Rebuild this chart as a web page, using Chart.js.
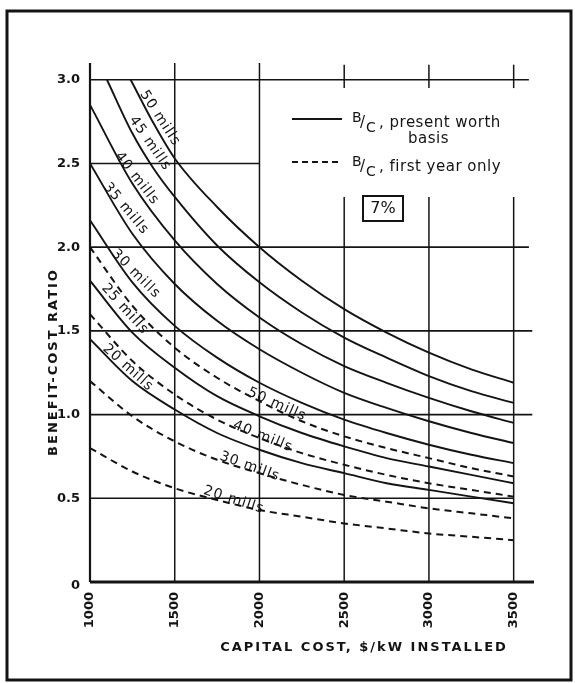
<!DOCTYPE html>
<html>
<head>
<meta charset="utf-8">
<script src="https://cdn.jsdelivr.net/npm/chart.js@4.4.1/dist/chart.umd.min.js"></script>
<style>
  html, body { margin: 0; padding: 0; background: #fff; }
  canvas { display: block; }
</style>
</head>
<body>
<canvas id="bc" width="575" height="683"></canvas>
<script>
// Capital cost, $/kW installed
const capitalCost   = [1000, 1250, 1500, 1750, 2000, 2250, 2500, 2750, 3000, 3250, 3500];
const capitalCost50 = [1240, 1375, 1500, 1750, 2000, 2250, 2500, 2750, 3000, 3250, 3500];
const capitalCost45 = [1100, 1250, 1375, 1500, 1750, 2000, 2250, 2500, 2750, 3000, 3250, 3500];

// Benefit-cost ratio, present worth basis (solid)
const pw50 = [3.00, 2.74, 2.53, 2.24, 2.00, 1.80, 1.63, 1.49, 1.37, 1.27, 1.19];
const pw45 = [3.00, 2.68, 2.47, 2.30, 2.01, 1.79, 1.61, 1.46, 1.34, 1.23, 1.14, 1.07];
const pw40 = [2.85, 2.38, 2.04, 1.78, 1.58, 1.42, 1.29, 1.19, 1.10, 1.02, 0.95];
const pw35 = [2.50, 2.08, 1.78, 1.56, 1.39, 1.25, 1.13, 1.04, 0.96, 0.89, 0.83];
const pw30 = [2.16, 1.79, 1.53, 1.34, 1.19, 1.07, 0.97, 0.89, 0.82, 0.76, 0.71];
const pw25 = [1.80, 1.49, 1.28, 1.11, 0.99, 0.89, 0.81, 0.74, 0.69, 0.64, 0.59];
const pw20 = [1.45, 1.20, 1.03, 0.89, 0.79, 0.71, 0.65, 0.59, 0.55, 0.51, 0.47];

// Benefit-cost ratio, first year only (dashed)
const fy50 = [2.00, 1.65, 1.40, 1.22, 1.08, 0.96, 0.87, 0.80, 0.74, 0.68, 0.63];
const fy40 = [1.60, 1.32, 1.12, 0.97, 0.86, 0.77, 0.70, 0.64, 0.59, 0.55, 0.51];
const fy30 = [1.20, 0.99, 0.84, 0.73, 0.65, 0.58, 0.52, 0.48, 0.44, 0.41, 0.38];
const fy20 = [0.80, 0.66, 0.56, 0.49, 0.43, 0.39, 0.35, 0.32, 0.29, 0.27, 0.25];

// Axis ticks
const xTicks = [1000, 1500, 2000, 2500, 3000, 3500];
const yTicks = [0, 0.5, 1.0, 1.5, 2.0, 2.5, 3.0];
const yTickLabels = ['0', '0.5', '1.0', '1.5', '2.0', '2.5', '3.0'];

// Curve names
const curveNames = ['50 mills', '45 mills', '40 mills', '35 mills', '30 mills', '25 mills', '20 mills'];
const firstYearNames = ['50 mills', '40 mills', '30 mills', '20 mills'];

// ---- drawing setup ----
const INK = '#141414';
const FONT = '"DejaVu Sans", "Liberation Sans", sans-serif';

function pts(xs, ys) { return xs.map((x, i) => ({ x: x, y: ys[i] })); }

function curve(label, xs, ys, dashed) {
  return {
    label: label,
    data: pts(xs, ys),
    showLine: true,
    borderColor: INK,
    borderWidth: dashed ? 2 : 1.9,
    borderDash: dashed ? [7, 5] : [],
    pointRadius: 0,
    fill: false,
    cubicInterpolationMode: 'monotone'
  };
}

const datasets = [
  curve(curveNames[0], capitalCost50, pw50, false),
  curve(curveNames[1], capitalCost45, pw45, false),
  curve(curveNames[2], capitalCost, pw40, false),
  curve(curveNames[3], capitalCost, pw35, false),
  curve(curveNames[4], capitalCost, pw30, false),
  curve(curveNames[5], capitalCost, pw25, false),
  curve(curveNames[6], capitalCost, pw20, false),
  curve(firstYearNames[0], capitalCost, fy50, true),
  curve(firstYearNames[1], capitalCost, fy40, true),
  curve(firstYearNames[2], capitalCost, fy30, true),
  curve(firstYearNames[3], capitalCost, fy20, true)
];

// Where each curve's name is lettered (value space) and its slant in degrees
const labelPlacement = [
  { text: curveNames[0], x: 1413, y: 2.77, angle: 57 },
  { text: curveNames[1], x: 1354, y: 2.62, angle: 55 },
  { text: curveNames[2], x: 1277, y: 2.41, angle: 52 },
  { text: curveNames[3], x: 1212, y: 2.23, angle: 50 },
  { text: curveNames[4], x: 1271, y: 1.84, angle: 45 },
  { text: curveNames[5], x: 1206, y: 1.63, angle: 48 },
  { text: curveNames[6], x: 1224, y: 1.28, angle: 42 },
  { text: firstYearNames[0], x: 2103, y: 1.06, angle: 24 },
  { text: firstYearNames[1], x: 2020, y: 0.87, angle: 22 },
  { text: firstYearNames[2], x: 1943, y: 0.69, angle: 20 },
  { text: firstYearNames[3], x: 1849, y: 0.49, angle: 18 }
];

// Ruled lines of the grid: horizontal rules end at different costs,
// and the right-hand verticals break around the key.
const rowRules = [
  { v: 3.0, to: 3590 }, { v: 2.5, to: 2000 }, { v: 2.0, to: 3590 },
  { v: 1.5, to: 3610 }, { v: 1.0, to: 3610 }, { v: 0.5, to: 3500 }
];
const colRules = [
  { v: 1500, spans: [[0, 3.1]] },
  { v: 2000, spans: [[0, 3.1]] },
  { v: 2500, spans: [[0, 2.3], [2.95, 3.09]] },
  { v: 3000, spans: [[0, 2.3], [2.95, 3.09]] },
  { v: 3500, spans: [[0, 2.3], [2.95, 3.09]] }
];

const paperPlugin = {
  id: 'paper',
  beforeDatasetsDraw(chart) {
    const { ctx, scales: { x, y } } = chart;
    const X = v => x.getPixelForValue(v), Y = v => y.getPixelForValue(v);
    ctx.save();
    ctx.strokeStyle = INK;
    ctx.lineCap = 'butt';
    const seg = (x1, y1, x2, y2, w) => {
      ctx.lineWidth = w;
      ctx.beginPath();
      ctx.moveTo(X(x1), Y(y1));
      ctx.lineTo(X(x2), Y(y2));
      ctx.stroke();
    };
    rowRules.forEach(r => seg(1000, r.v, r.to, r.v, 1.6));
    colRules.forEach(c => c.spans.forEach(s => seg(c.v, s[0], c.v, s[1], 1.5)));
    // axes
    seg(1000, 0, 1000, 3.1, 2.2);
    seg(1000, 0, 3620, 0, 3);
    ctx.restore();
  },
  afterDatasetsDraw(chart) {
    const { ctx, scales: { x, y } } = chart;
    const X = v => x.getPixelForValue(v), Y = v => y.getPixelForValue(v);
    ctx.save();
    ctx.fillStyle = INK;
    ctx.strokeStyle = INK;

    // curve names along the curves
    ctx.font = '14px ' + FONT;
    ctx.letterSpacing = '1px';
    ctx.textAlign = 'center';
    ctx.textBaseline = 'middle';
    labelPlacement.forEach(l => {
      ctx.save();
      ctx.translate(X(l.x), Y(l.y));
      ctx.rotate(l.angle * Math.PI / 180);
      ctx.fillText(l.text, 0, 0);
      ctx.restore();
    });

    // y tick labels
    ctx.font = 'bold 13px ' + FONT;
    ctx.letterSpacing = '0px';
    ctx.textAlign = 'right';
    ctx.textBaseline = 'middle';
    yTicks.forEach((v, i) => {
      ctx.fillText(yTickLabels[i], X(1000) - 10, Y(v) + (v === 0 ? 4 : 0));
    });

    // x tick labels, reading upward
    ctx.font = 'bold 13px ' + FONT;
    xTicks.forEach(v => {
      ctx.save();
      ctx.translate(X(v), Y(0) + 10);
      ctx.rotate(-Math.PI / 2);
      ctx.textAlign = 'right';
      ctx.textBaseline = 'middle';
      ctx.fillText(String(v), 0, 0);
      ctx.restore();
    });

    // axis titles
    ctx.font = 'bold 13px ' + FONT;
    ctx.letterSpacing = '2px';
    ctx.textAlign = 'center';
    ctx.textBaseline = 'middle';
    ctx.fillText('CAPITAL COST, $/kW INSTALLED', 364, 648);
    ctx.save();
    ctx.translate(54, 362);
    ctx.rotate(-Math.PI / 2);
    ctx.fillText('BENEFIT-COST RATIO', 0, 0);
    ctx.restore();

    // key
    ctx.letterSpacing = '0.5px';
    ctx.lineWidth = 2;
    ctx.beginPath(); ctx.moveTo(292, 119); ctx.lineTo(342, 119); ctx.stroke();
    ctx.setLineDash([6, 4]);
    ctx.beginPath(); ctx.moveTo(292, 162); ctx.lineTo(342, 162); ctx.stroke();
    ctx.setLineDash([]);
    ctx.textAlign = 'left';
    ctx.textBaseline = 'alphabetic';
    const bOverC = (x0, base) => {
      ctx.font = '14px ' + FONT;
      ctx.fillText('B', x0, base - 5);
      ctx.font = '15px ' + FONT;
      ctx.fillText('/', x0 + 8, base);
      ctx.font = '14px ' + FONT;
      ctx.fillText('C', x0 + 14, base + 5);
    };
    bOverC(352, 127);
    ctx.font = '15px ' + FONT;
    ctx.fillText(', present worth', 379, 127);
    ctx.fillText('basis', 408, 143);
    bOverC(352, 171);
    ctx.font = '15px ' + FONT;
    ctx.fillText(', first year only', 379, 171);

    // rate box
    ctx.lineWidth = 2;
    ctx.strokeRect(363, 196, 40, 25);
    ctx.font = '16px ' + FONT;
    ctx.letterSpacing = '0px';
    ctx.textAlign = 'center';
    ctx.textBaseline = 'middle';
    ctx.fillText('7%', 383, 209);

    // sheet frame
    ctx.lineWidth = 3;
    ctx.strokeRect(7, 11, 564, 669);
    ctx.restore();
  }
};

new Chart(document.getElementById('bc'), {
  type: 'scatter',
  data: { datasets: datasets },
  options: {
    responsive: false,
    animation: false,
    events: [],
    layout: { padding: { left: 90, right: 41, top: 63, bottom: 101 } },
    plugins: { legend: { display: false }, tooltip: { enabled: false } },
    scales: {
      x: { type: 'linear', min: 1000, max: 3620, display: false },
      y: { type: 'linear', min: 0, max: 3.1, display: false }
    }
  },
  plugins: [paperPlugin]
});
</script>
</body>
</html>
